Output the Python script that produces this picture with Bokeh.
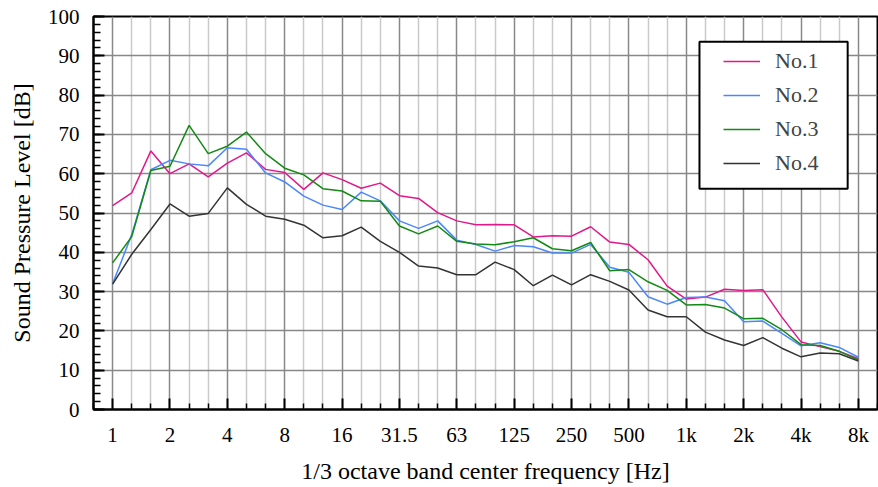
from bokeh.plotting import figure
from bokeh.models import FixedTicker, Range1d, Legend, LegendItem, BoxAnnotation
from bokeh.embed import file_html
from bokeh.resources import INLINE

bands = ["1", "1.25", "1.6", "2", "2.5", "3.15", "4", "5", "6.3", "8",
         "10", "12.5", "16", "20", "25", "31.5", "40", "50", "63", "80",
         "100", "125", "160", "200", "250", "315", "400", "500", "630", "800",
         "1k", "1.25k", "1.6k", "2k", "2.5k", "3.15k", "4k", "5k", "6.3k", "8k"]
octave_labels = ["1", "2", "4", "8", "16", "31.5", "63", "125", "250", "500",
                 "1k", "2k", "4k", "8k"]

no1 = [51.9, 55.1, 65.8, 60.0, 62.5, 59.2, 62.7, 65.3, 61.1, 60.3,
       56.0, 60.2, 58.5, 56.3, 57.6, 54.4, 53.7, 50.1, 48.0, 47.0,
       47.1, 47.0, 43.9, 44.2, 44.1, 46.5, 42.6, 42.0, 38.1, 31.4,
       28.1, 28.6, 30.6, 30.3, 30.5, 23.5, 17.2, 16.0, 14.8, 12.9]
no2 = [32.0, 44.5, 61.0, 63.4, 62.5, 62.0, 66.6, 66.2, 60.2, 57.9,
       54.3, 52.0, 50.9, 55.3, 53.1, 48.0, 46.1, 48.0, 43.1, 42.0,
       40.3, 41.7, 41.4, 39.8, 39.8, 42.0, 36.2, 34.9, 28.7, 26.8,
       28.5, 28.6, 27.7, 22.3, 22.5, 19.4, 16.2, 17.0, 15.8, 13.3]
no3 = [37.3, 44.0, 60.8, 61.9, 72.3, 65.1, 67.0, 70.6, 65.1, 61.4,
       59.7, 56.2, 55.6, 53.1, 53.0, 46.7, 44.7, 46.7, 42.8, 42.1,
       41.9, 42.7, 43.7, 40.9, 40.4, 42.5, 35.3, 35.6, 32.5, 30.3,
       26.6, 26.7, 25.8, 23.1, 23.2, 20.3, 16.5, 16.3, 14.8, 12.6]
no4 = [31.9, 39.5, 45.8, 52.3, 49.2, 49.9, 56.4, 52.2, 49.2, 48.4,
       46.9, 43.7, 44.2, 46.4, 42.8, 40.0, 36.5, 36.0, 34.3, 34.3,
       37.5, 35.6, 31.5, 34.2, 31.7, 34.3, 32.6, 30.4, 25.3, 23.6,
       23.6, 19.7, 17.7, 16.3, 18.3, 15.6, 13.4, 14.4, 14.2, 12.3]

series_names = ["No.1", "No.2", "No.3", "No.4"]
series_values = [no1, no2, no3, no4]
series_colors = ["#e3178c", "#4a86ff", "#138a13", "#333333"]

FONT = "Liberation Serif"

x = list(range(len(bands)))

p = figure(width=878, height=487, output_backend="svg", toolbar_location=None,
           x_range=Range1d(-1, 40), y_range=Range1d(0, 100),
           min_border_left=93, min_border_right=1, min_border_top=16,
           min_border_bottom=78)
p.background_fill_color = "white"
p.border_fill_color = "white"
p.outline_line_color = "black"
p.outline_line_width = 2
p.outline_line_alpha = 1

major_x = [3 * i for i in range(len(octave_labels))]
minor_x = [i for i in range(-1, 41) if i % 3 != 0]
xticker = FixedTicker(ticks=major_x, minor_ticks=minor_x)
yticker = FixedTicker(ticks=list(range(0, 101, 10)), minor_ticks=list(range(0, 101, 2)))

p.xaxis.ticker = xticker
p.yaxis.ticker = yticker
p.xgrid.ticker = xticker
p.ygrid.ticker = yticker
p.xaxis.major_label_overrides = {3 * i: lab for i, lab in enumerate(octave_labels)}

p.xgrid.grid_line_color = "#888888"
p.xgrid.grid_line_width = 1.5
p.xgrid.minor_grid_line_color = "#cacaca"
p.xgrid.minor_grid_line_width = 1.5
p.ygrid.grid_line_color = "#888888"
p.ygrid.grid_line_width = 1.5
p.ygrid.minor_grid_line_color = None

for ax in (p.xaxis[0], p.yaxis[0]):
    ax.axis_line_color = "black"
    ax.axis_line_width = 2
    ax.major_tick_line_color = "black"
    ax.minor_tick_line_color = "black"
    ax.major_tick_line_width = 2
    ax.minor_tick_line_width = 1.5
    ax.major_tick_out = 0
    ax.minor_tick_out = 0
    ax.major_label_text_font = FONT
    ax.major_label_text_font_size = "21px"
    ax.major_label_text_color = "black"
    ax.axis_label_text_font = FONT
    ax.axis_label_text_font_size = "24px"
    ax.axis_label_text_font_style = "normal"
    ax.axis_label_text_color = "black"

p.xaxis.major_tick_in = 11
p.xaxis.minor_tick_in = 6
p.yaxis.major_tick_in = 11
p.yaxis.minor_tick_in = 7
p.xaxis.major_label_standoff = 13
p.yaxis.major_label_standoff = 14
p.xaxis.axis_label_standoff = 8
p.yaxis.axis_label_standoff = 10
p.xaxis.axis_label = "1/3 octave band center frequency [Hz]"
p.yaxis.axis_label = "Sound Pressure Level [dB]"

renderers = []
for name, vals, col in zip(series_names, series_values, series_colors):
    r = p.line(x, vals, line_color=col, line_width=1.5)
    renderers.append(r)

box = BoxAnnotation(left=30.69, right=38.44, bottom=56.2, top=93.6,
                     fill_color="white", fill_alpha=1.0,
                     line_color="black", line_width=2, line_alpha=1.0)
p.add_layout(box)

legend = Legend(items=[LegendItem(label=n, renderers=[r]) for n, r in zip(series_names, renderers)],
                location=(630, 233), padding=0, margin=0, spacing=8,
                glyph_width=37, glyph_height=24, label_height=24, label_standoff=15,
                label_text_font=FONT, label_text_font_size="22px",
                border_line_color=None, background_fill_alpha=0)
p.add_layout(legend)

open("out.html", "w").write(file_html(p, INLINE))
